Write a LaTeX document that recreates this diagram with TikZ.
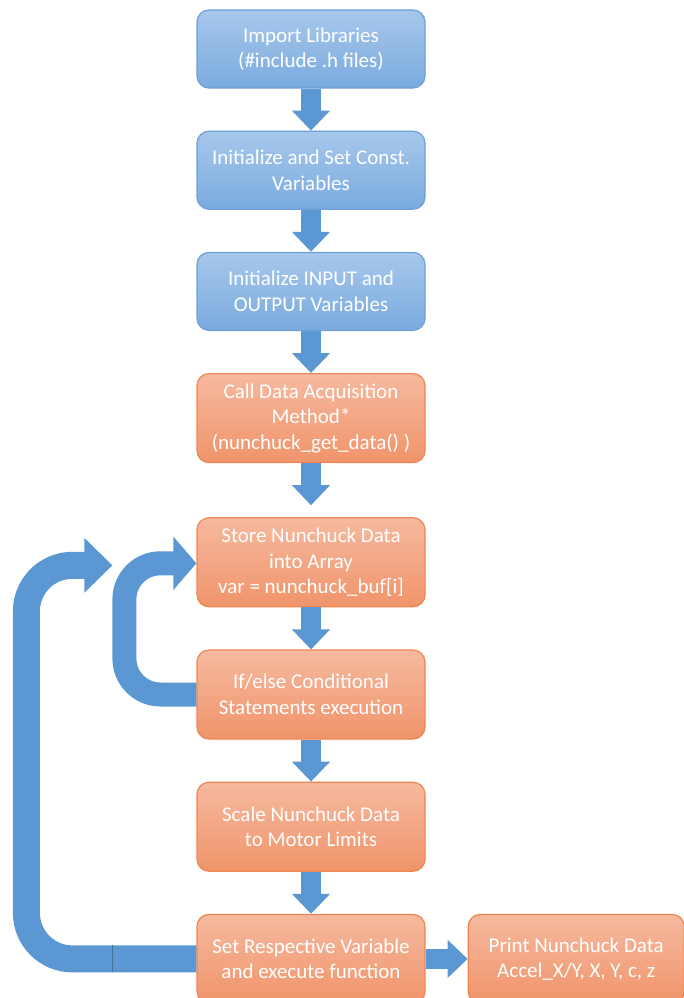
\documentclass[tikz,border=0pt]{standalone}
\usepackage{fontspec}
\setmainfont{Carlito}
\usetikzlibrary{arrows.meta, positioning}

\definecolor{bluetop}{HTML}{A7C7EB}
\definecolor{bluebot}{HTML}{7AABDF}
\definecolor{blueedge}{HTML}{6D9FD8}
\definecolor{orangetop}{HTML}{F6B99F}
\definecolor{orangebot}{HTML}{F0946A}
\definecolor{orangeedge}{HTML}{EE8550}
\definecolor{arrblue}{HTML}{5B97D3}
\definecolor{seamblue}{HTML}{41719C}

\begin{document}
\begin{tikzpicture}[x=1pt, y=-1pt,
      node distance=42pt,
      box/.style={rounded corners=12pt, align=center, inner sep=3pt, minimum width=228pt,
        text=white, font=\fontsize{21}{25.5}\selectfont, line width=1.2pt},
      bluebox/.style={box, draw=blueedge, top color=bluetop, bottom color=bluebot, minimum height=78pt},
      orangebox/.style={box, draw=orangeedge, top color=orangetop, bottom color=orangebot, minimum height=89pt},
      blockarr/.style={arrblue, line width=20pt, -{Triangle[width=37pt, length=20pt]}},
      looparr/.style={arrblue, line width=24pt, -{Triangle[width=52pt, length=23pt]}}]
    \useasboundingbox (0,0) rectangle (683,998);
    \node[bluebox] (imp) at (311,49) {Import Libraries\\(\#include .h files)};
    \node[bluebox, below=of imp] (const) {Initialize and Set Const.\\Variables};
    \node[bluebox, below=of const] (inout) {Initialize INPUT and\\OUTPUT Variables};
    \node[orangebox, below=of inout] (call) {Call Data Acquisition\\Method*\\(nunchuck\_get\_data() )};
    \node[orangebox, below=54pt of call] (store) {Store Nunchuck Data\\into Array\\var = nunchuck\_buf[i]};
    \node[orangebox, below=of store] (ifelse) {If/else Conditional\\Statements execution};
    \node[orangebox, below=of ifelse] (scale) {Scale Nunchuck Data\\to Motor Limits};
    \node[orangebox, below=of scale] (setvar) {Set Respective Variable\\and execute function};
    \node[orangebox, minimum width=216pt, right=42pt of setvar] (print) {Print Nunchuck Data\\Accel\_X/Y, X, Y, c, z};
    \coordinate (outtip) at ([xshift=-84pt, yshift=-3pt]store.west);
    \coordinate (intip) at ([yshift=-1pt]store.west);
    % straight block arrows
    \draw[blockarr] (imp) -- (const);
    \draw[blockarr] (const) -- (inout);
    \draw[blockarr] (inout) -- (call);
    \draw[blockarr] (call) -- ([yshift=12pt]store.north);
    \draw[blockarr] (store) -- (ifelse);
    \draw[blockarr] (ifelse) -- (scale);
    \draw[blockarr] (scale) -- (setvar);
    \draw[blockarr] (setvar) -- (print);
    % loops back to the array step
    \draw[looparr, rounded corners=36pt] (ifelse.west) -- ++(-72,0) |- (intip);
    \draw[looparr, line width=27pt, -{Triangle[width=53pt, length=28pt]}, rounded corners=46pt]
      (setvar.west) -- ++(-170,0) |- (outtip);
    \draw[seamblue, line width=0.6pt] ([xshift=-84pt, yshift=13.5pt]setvar.west) -- ([xshift=-84pt, yshift=-13.5pt]setvar.west);
  \end{tikzpicture}
\end{document}
